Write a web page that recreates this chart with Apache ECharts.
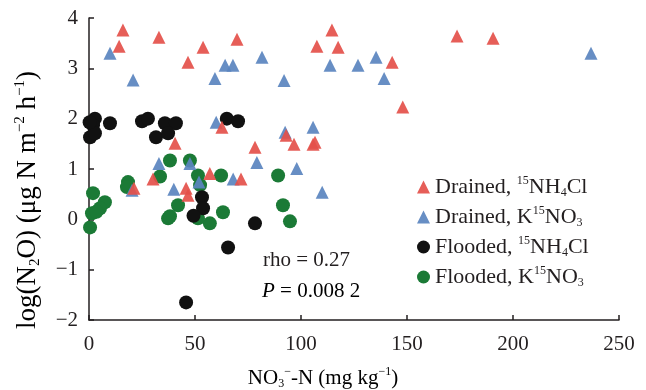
<!DOCTYPE html>
<html>
<head>
<meta charset="utf-8">
<script src="https://cdn.jsdelivr.net/npm/echarts@6/dist/echarts.min.js"></script>
<style>
html, body { margin: 0; padding: 0; background: #fff; }
#chart { width: 646px; height: 390px; }
</style>
</head>
<body>
<div id="chart"></div>
<script>
// NO3-N (mg/kg) vs log(N2O), four treatments
var drainedNH4 = [
    [16, 3.76], [14.2, 3.44], [33, 3.62], [53.8, 3.42], [46.7, 3.12], [69.8, 3.58],
    [114.6, 3.76], [107.5, 3.44], [117.5, 3.42], [143, 3.12], [148, 2.23], [173.6, 3.64],
    [190.6, 3.6], [93, 1.67], [96.7, 1.49], [105.7, 1.49], [106.6, 1.53], [62.7, 1.83],
    [78.3, 1.43], [57, 0.91], [71.7, 0.8], [40.6, 1.51], [30.2, 0.8], [21.2, 0.62],
    [45.8, 0.62], [46.7, 0.48]
];
var drainedNO3 = [
    [9.9, 3.3], [20.8, 2.77], [59.4, 2.8], [64.2, 3.06], [67.9, 3.06], [81.6, 3.22],
    [92, 2.76], [113.7, 3.06], [126.9, 3.06], [135.4, 3.22], [139.2, 2.8], [236.8, 3.3],
    [92.5, 1.73], [105.7, 1.83], [98, 1.01], [110, 0.54], [60, 1.93], [79.2, 1.13],
    [68, 0.8], [33, 1.11], [20.3, 0.58], [40, 0.6], [51.9, 0.74], [47.6, 1.11]
];
var floodedNH4 = [
    [2.8, 2.0], [1.9, 1.87], [0.5, 1.63], [2.8, 1.71], [0.3, 1.93], [9.9, 1.91],
    [25, 1.95], [27.8, 2.0], [35.8, 1.91], [41, 1.91], [31.6, 1.63], [37.3, 1.71],
    [65, 2.0], [70.3, 1.95], [53.3, 0.44], [53.8, 0.22], [49.3, 0.07], [78.3, -0.08],
    [65.6, -0.56], [45.8, -1.65]
];
var floodedNO3 = [
    [1.9, 0.52], [18.4, 0.74], [17.9, 0.64], [38.2, 1.17], [47.6, 1.17], [33.5, 0.85],
    [51.4, 0.87], [62.3, 0.87], [42, 0.28], [7.5, 0.34], [5.2, 0.22], [1.4, 0.12],
    [0.5, -0.16], [37.3, 0.02], [38.2, 0.06], [57, -0.08], [51.4, 0.02], [63.2, 0.14],
    [91.5, 0.28], [94.8, -0.04], [89.2, 0.87], [52.4, 0.68], [3.5, 0.15]
];
var seriesNames = ['Drained, NH4Cl', 'Drained, KNO3', 'Flooded, NH4Cl', 'Flooded, KNO3'];
var legendRich = {
    'Drained, NH4Cl': '{t|Drained, }{sup|15}{t|NH}{sub|4}{t|Cl}',
    'Drained, KNO3': '{t|Drained, K}{sup|15}{t|NO}{sub|3}',
    'Flooded, NH4Cl': '{t|Flooded, }{sup|15}{t|NH}{sub|4}{t|Cl}',
    'Flooded, KNO3': '{t|Flooded, K}{sup|15}{t|NO}{sub|3}'
};

var font = '"Liberation Serif", "Times New Roman", serif';
var ink = '#231f20';
var rich = {
    t: { fontFamily: font, fontSize: 21, color: ink, lineHeight: 24 },
    it: { fontFamily: font, fontSize: 21, color: ink, lineHeight: 24, fontStyle: 'italic' },
    sup: { fontFamily: font, fontSize: 12, color: ink, lineHeight: 12, verticalAlign: 'top' },
    sub: { fontFamily: font, fontSize: 12, color: ink, lineHeight: 12, verticalAlign: 'bottom' }
};
var legendTextRich = {
    t: { fontFamily: font, fontSize: 22, color: ink, lineHeight: 24 },
    sup: { fontFamily: font, fontSize: 12, color: ink, lineHeight: 12, verticalAlign: 'top' },
    sub: { fontFamily: font, fontSize: 12, color: ink, lineHeight: 12, verticalAlign: 'bottom' }
};
// y title is drawn wider in the original
var yTitleRich = {
    t: { fontFamily: font, fontSize: 27, color: ink, lineHeight: 30 },
    sup: { fontFamily: font, fontSize: 15, color: ink, lineHeight: 15, verticalAlign: 'top' },
    sub: { fontFamily: font, fontSize: 15, color: ink, lineHeight: 15, verticalAlign: 'bottom' }
};

var chart = echarts.init(document.getElementById('chart'), null, { renderer: 'canvas' });

function scatter(name, data, symbol, color, size, z) {
    return {
        name: name,
        type: 'scatter',
        data: data,
        symbol: symbol,
        symbolSize: size,
        z: z,
        itemStyle: { color: color, opacity: symbol == 'triangle' ? 0.92 : 1 }
    };
}

var option = {
    animation: false,
    backgroundColor: '#fff',
    grid: { left: 89, right: 27, top: 18, bottom: 70 },
    xAxis: {
        type: 'value', min: 0, max: 250, interval: 50,
        axisLine: { onZero: false, lineStyle: { color: ink, width: 1.5 } },
        axisTick: { inside: true, length: 5, lineStyle: { color: ink, width: 1.5 } },
        axisLabel: { fontFamily: font, fontSize: 21, color: ink, margin: 14 },
        splitLine: { show: false }
    },
    yAxis: {
        type: 'value', min: -2, max: 4, interval: 1,
        axisLine: { show: true, lineStyle: { color: ink, width: 1.5 } },
        axisTick: { show: true, inside: true, length: 5, lineStyle: { color: ink, width: 1.5 } },
        axisLabel: {
            fontFamily: font, fontSize: 21, color: ink, margin: 11,
            formatter: function (v) { return v < 0 ? '\u2212' + Math.abs(v) : String(v); }
        },
        splitLine: { show: false }
    },
    legend: {
        orient: 'vertical', left: 412, top: 170,
        itemWidth: 13, itemHeight: 13, itemGap: 6,
        data: seriesNames,
        formatter: function (name) { return legendRich[name]; },
        textStyle: { rich: legendTextRich }
    },
    graphic: [
        {
            type: 'text', left: 263, top: 250,
            style: { text: 'rho = 0.27', font: '21px ' + font, fill: ink }
        },
        {
            type: 'text', left: 262, top: 281,
            style: { text: '{it|P}{t| = 0.008 2}', rich: rich }
        },
        {
            type: 'text', x: 323, y: 378,
            style: {
                text: '{t|NO}{sub|3}{sup|\u2212}{t|-N (mg kg}{sup|\u22121}{t|)}',
                rich: rich, align: 'center', verticalAlign: 'middle'
            }
        },
        {
            type: 'text', x: 28, y: 200, rotation: Math.PI / 2,
            style: {
                text: '{t|log(N}{sub|2}{t|O) (\u03bcg N m}{sup|\u22122}{t| h}{sup|\u22121}{t|)}',
                rich: yTitleRich, align: 'center', verticalAlign: 'middle'
            }
        }
    ],
    series: [
        scatter(seriesNames[0], drainedNH4, 'triangle', '#e4504a', 13, 5),
        scatter(seriesNames[1], drainedNO3, 'triangle', '#5a84bf', 13, 4),
        scatter(seriesNames[2], floodedNH4, 'circle', '#111111', 14, 3),
        scatter(seriesNames[3], floodedNO3, 'circle', '#1b7a36', 14, 2)
    ]
};
chart.setOption(option);
</script>
</body>
</html>
